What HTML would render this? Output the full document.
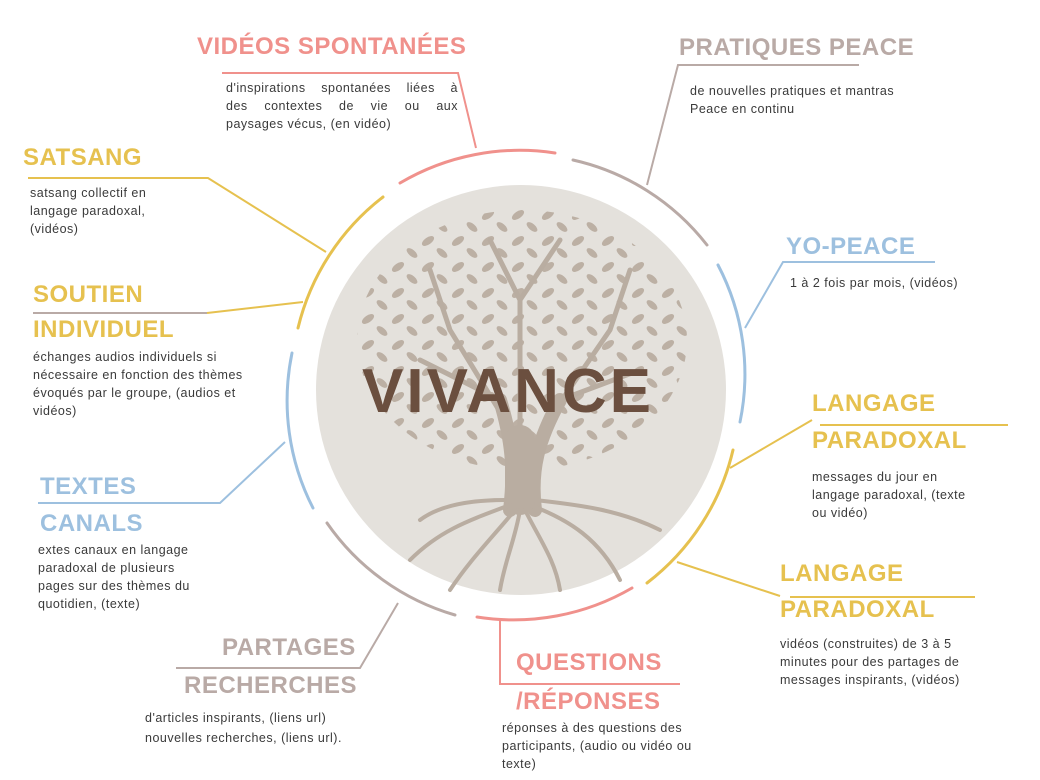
<!DOCTYPE html>
<html><head><meta charset="utf-8"><style>
html,body{margin:0;padding:0;background:#fff;}
body{width:1040px;height:780px;position:relative;overflow:hidden;font-family:"Liberation Sans",sans-serif;}
.h{position:absolute;font-weight:bold;font-size:24px;letter-spacing:0.5px;line-height:28px;white-space:nowrap;}
.b{position:absolute;font-size:12.5px;line-height:18px;color:#3a3a3a;letter-spacing:.5px;}
.j{display:block;text-align:justify;text-align-last:justify;}
.p{color:#f0918c}.m{color:#b9aaa6}.y{color:#e6c14f}.bl{color:#9dc0df}
</style></head><body>
<svg width="1040" height="780" style="position:absolute;left:0;top:0">
<defs>
<pattern id="lv" width="30" height="26" patternUnits="userSpaceOnUse">
<ellipse cx="8" cy="7" rx="7" ry="3.5" transform="rotate(-35 8 7)" fill="#bcb0a4"/>
<ellipse cx="22" cy="19" rx="6.5" ry="3.2" transform="rotate(40 22 19)" fill="#bcb0a4"/>
</pattern>
<clipPath id="cp"><ellipse cx="522" cy="340" rx="165" ry="130"/></clipPath>
</defs>
<circle cx="521" cy="390" r="205" fill="#e4e1dc"/>
<rect x="350" y="200" width="350" height="280" fill="url(#lv)" clip-path="url(#cp)"/>
<g stroke="#b9ada1" fill="none" stroke-linecap="round">
<path d="M510 510 C515 470 512 440 500 400 M535 510 C530 470 538 440 560 400" stroke-width="14"/>
<path d="M520 500 L520 440" stroke-width="30"/>
<path d="M505 420 L450 330 M500 400 L420 360 M555 410 L610 330 M560 400 L640 370 M520 440 L520 300 M450 330 L430 270 M610 330 L630 270 M520 300 L490 240 M520 300 L560 240" stroke-width="5"/>
<path d="M510 505 C470 520 440 530 410 560 M515 510 C490 540 470 560 450 590 M520 510 C515 540 505 560 500 590 M525 510 C540 540 555 560 560 590 M530 505 C570 520 600 540 620 580 M535 500 C580 505 620 510 660 530 M505 500 C470 500 440 505 420 520" stroke-width="4"/>
</g>
<text x="508" y="412" text-anchor="middle" font-family="Liberation Sans" font-weight="bold" font-size="62" letter-spacing="3" fill="#6b4f3f">VIVANCE</text>
<g fill="none" stroke-width="3" stroke-linecap="round">
<path d="M298 328 A235 235 0 0 1 383 197" stroke="#e6c14f"/>
<path d="M400 183 A235 235 0 0 1 555 153" stroke="#f0918c"/>
<path d="M573 160 A235 235 0 0 1 707 245" stroke="#b9aaa6"/>
<path d="M718 265 A235 235 0 0 1 740 422" stroke="#9dc0df"/>
<path d="M733 450 A235 235 0 0 1 647 583" stroke="#e6c14f"/>
<path d="M632 588 A235 235 0 0 1 477 617" stroke="#f0918c"/>
<path d="M455 615 A235 235 0 0 1 327 523" stroke="#b9aaa6"/>
<path d="M313 508 A235 235 0 0 1 292 353" stroke="#9dc0df"/>
</g>
<g fill="none" stroke-width="2">
<path d="M222 73 L458 73 L476 148" stroke="#f0918c"/>
<path d="M859 65 L678 65 L647 185" stroke="#b9aaa6"/>
<path d="M28 178 L208 178 L326 252" stroke="#e6c14f"/>
<path d="M33 313 L207 313" stroke="#b9aaa6"/>
<path d="M207 313 L303 302" stroke="#e6c14f"/>
<path d="M935 262 L783 262 L745 328" stroke="#9dc0df"/>
<path d="M820 425 L1008 425" stroke="#e6c14f"/>
<path d="M812 420 L730 468" stroke="#e6c14f"/>
<path d="M790 597 L975 597" stroke="#e6c14f"/>
<path d="M780 596 L677 562" stroke="#e6c14f"/>
<path d="M500 620 L500 684 L680 684" stroke="#f0918c"/>
<path d="M176 668 L360 668 L398 603" stroke="#b9aaa6"/>
<path d="M38 503 L220 503 L285 442" stroke="#9dc0df"/>
</g>
</svg>

<div class="h p" style="left:197px;top:33px">VIDÉOS SPONTANÉES</div>
<div class="b" style="left:226px;top:79px;width:232px"><span class="j">d'inspirations spontanées liées à</span><span class="j">des contextes de vie ou aux</span>paysages vécus, (en vidéo)</div>

<div class="h m" style="left:679px;top:34px">PRATIQUES PEACE</div>
<div class="b" style="left:690px;top:82px">de nouvelles pratiques et mantras<br>Peace en continu</div>

<div class="h y" style="left:23px;top:144px">SATSANG</div>
<div class="b" style="left:30px;top:184px">satsang collectif en<br>langage paradoxal,<br>(vidéos)</div>

<div class="h y" style="left:33px;top:281px">SOUTIEN</div>
<div class="h y" style="left:33px;top:316px">INDIVIDUEL</div>
<div class="b" style="left:33px;top:348px">échanges audios individuels si<br>nécessaire en fonction des thèmes<br>évoqués par le groupe, (audios et<br>vidéos)</div>

<div class="h bl" style="left:40px;top:473px">TEXTES</div>
<div class="h bl" style="left:40px;top:510px">CANALS</div>
<div class="b" style="left:38px;top:541px">extes canaux en langage<br>paradoxal de plusieurs<br>pages sur des thèmes du<br>quotidien, (texte)</div>

<div class="h m" style="left:222px;top:634px">PARTAGES</div>
<div class="h m" style="left:184px;top:672px">RECHERCHES</div>
<div class="b" style="left:145px;top:708px;line-height:20px">d'articles inspirants, (liens url)<br>nouvelles recherches, (liens url).</div>

<div class="h p" style="left:516px;top:649px">QUESTIONS</div>
<div class="h p" style="left:516px;top:688px">/RÉPONSES</div>
<div class="b" style="left:502px;top:719px">réponses à des questions des<br>participants, (audio ou vidéo ou<br>texte)</div>

<div class="h bl" style="left:786px;top:233px">YO-PEACE</div>
<div class="b" style="left:790px;top:274px">1 à 2 fois par mois, (vidéos)</div>

<div class="h y" style="left:812px;top:390px">LANGAGE</div>
<div class="h y" style="left:812px;top:427px">PARADOXAL</div>
<div class="b" style="left:812px;top:468px">messages du jour en<br>langage paradoxal, (texte<br>ou vidéo)</div>

<div class="h y" style="left:780px;top:560px">LANGAGE</div>
<div class="h y" style="left:780px;top:596px">PARADOXAL</div>
<div class="b" style="left:780px;top:635px">vidéos (construites) de 3 à 5<br>minutes pour des partages de<br>messages inspirants, (vidéos)</div>
</body></html>
